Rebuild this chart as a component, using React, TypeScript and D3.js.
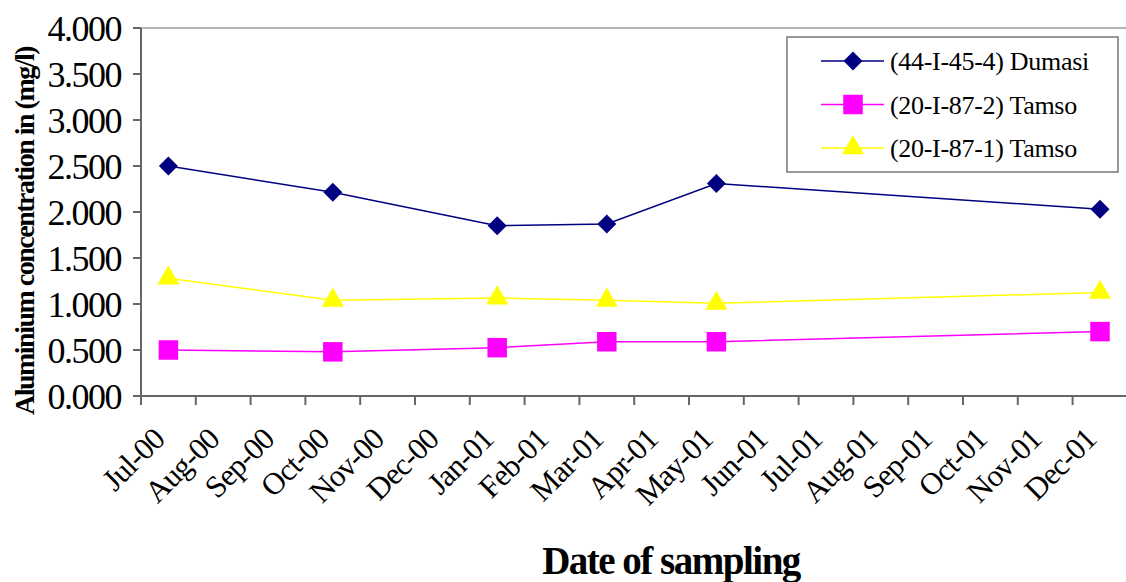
import React, { useEffect, useRef } from "react";
import * as d3 from "d3";

// month slots of the date axis
const months: string[] = [
  "Jul-00", "Aug-00", "Sep-00", "Oct-00", "Nov-00", "Dec-00",
  "Jan-01", "Feb-01", "Mar-01", "Apr-01", "May-01", "Jun-01",
  "Jul-01", "Aug-01", "Sep-01", "Oct-01", "Nov-01", "Dec-01",
];
const samplingDates: string[] = ["Jul-00", "Oct-00", "Jan-01", "Mar-01", "May-01", "Dec-01"];

const dumasi: number[] = [2.5, 2.214, 1.851, 1.87, 2.31, 2.03];
const tamso2: number[] = [0.5, 0.48, 0.525, 0.59, 0.59, 0.7];
const tamso1: number[] = [1.28, 1.04, 1.065, 1.04, 1.007, 1.125];

const yTicks: number[] = [0, 0.5, 1, 1.5, 2, 2.5, 3, 3.5, 4];

const seriesNames: string[] = ["(44-I-45-4) Dumasi", "(20-I-87-2) Tamso", "(20-I-87-1) Tamso"];

const W = 1126;
const H = 582;
const serif = "'Liberation Serif', 'Times New Roman', serif";

const App = () => {
  const svgRef = useRef<SVGSVGElement>(null);

  useEffect(() => {
    const svg = d3.select(svgRef.current);
    svg.selectAll("*").remove();

    const left = 141;
    const top = 28;
    const bottom = 396;
    const step = 54.8;

    const x = d3
      .scaleBand<string>()
      .domain(months)
      .range([left, left + months.length * step])
      .paddingInner(0)
      .paddingOuter(0);
    const y = d3.scaleLinear().domain([0, 4]).range([bottom, top]);
    const cx = (m: string) => (x(m) as number) + x.bandwidth() / 2;

    // top border of plot area
    svg
      .append("line")
      .attr("x1", left)
      .attr("x2", W)
      .attr("y1", top)
      .attr("y2", top)
      .attr("stroke", "#b4b4b4")
      .attr("stroke-width", 2);

    // y axis
    svg
      .append("line")
      .attr("x1", left)
      .attr("x2", left)
      .attr("y1", top)
      .attr("y2", bottom)
      .attr("stroke", "#666")
      .attr("stroke-width", 2);
    const yg = svg.append("g");
    yg.selectAll("line")
      .data(yTicks)
      .enter()
      .append("line")
      .attr("x1", left - 8)
      .attr("x2", left)
      .attr("y1", (d) => y(d))
      .attr("y2", (d) => y(d))
      .attr("stroke", "#666")
      .attr("stroke-width", 2);
    yg.selectAll("text")
      .data(yTicks)
      .enter()
      .append("text")
      .attr("x", 121)
      .attr("y", (d) => y(d))
      .attr("dy", "0.35em")
      .attr("text-anchor", "end")
      .style("font-family", serif)
      .style("font-size", "36px")
      .style("letter-spacing", "-1.5px")
      .text((d) => d3.format(".3f")(d));

    // x axis
    svg
      .append("line")
      .attr("x1", left)
      .attr("x2", W)
      .attr("y1", bottom)
      .attr("y2", bottom)
      .attr("stroke", "#666")
      .attr("stroke-width", 2);
    const xg = svg.append("g");
    xg.selectAll("line")
      .data(months)
      .enter()
      .append("line")
      .attr("x1", (d) => x(d) as number)
      .attr("x2", (d) => x(d) as number)
      .attr("y1", bottom)
      .attr("y2", bottom + 9)
      .attr("stroke", "#666")
      .attr("stroke-width", 2);
    xg.selectAll("text")
      .data(months)
      .enter()
      .append("text")
      .attr("transform", (d) => `translate(${cx(d) - 2},${bottom + 45}) rotate(-45)`)
      .attr("text-anchor", "end")
      .style("font-family", serif)
      .style("font-size", "31px")
      .style("letter-spacing", "-0.8px")
      .text((d) => d);

    // axis titles
    svg
      .append("text")
      .attr("transform", `translate(34,231) rotate(-90)`)
      .attr("text-anchor", "middle")
      .style("font-family", serif)
      .style("font-weight", "bold")
      .style("font-size", "28px")
      .style("letter-spacing", "-1.5px")
      .text("Aluminium concentration in (mg/l)");
    svg
      .append("text")
      .attr("x", 671)
      .attr("y", 574)
      .attr("text-anchor", "middle")
      .style("font-family", serif)
      .style("font-weight", "bold")
      .style("font-size", "39px")
      .style("letter-spacing", "-1.5px")
      .text("Date of sampling");

    // series
    const series = [
      { name: seriesNames[0], values: dumasi, color: "#000080", shape: d3.symbolSquare, size: 180, rot: 45 },
      { name: seriesNames[1], values: tamso2, color: "#FF00FF", shape: d3.symbolSquare, size: 380, rot: 0 },
      { name: seriesNames[2], values: tamso1, color: "#FFFF00", shape: d3.symbolTriangle, size: 210, rot: 0 },
    ];
    const line = d3
      .line<number>()
      .x((_, i) => cx(samplingDates[i]))
      .y((d) => y(d));

    series.forEach((s) => {
      svg
        .append("path")
        .attr("d", line(s.values))
        .attr("fill", "none")
        .attr("stroke", s.color)
        .attr("stroke-width", 1.5);
      svg
        .selectAll(null)
        .data(s.values)
        .enter()
        .append("path")
        .attr("d", d3.symbol().type(s.shape).size(s.size)())
        .attr("transform", (d, i) => `translate(${cx(samplingDates[i])},${y(d)}) rotate(${s.rot})`)
        .attr("fill", s.color);
    });

    // legend
    const lg = svg.append("g");
    lg.append("rect")
      .attr("x", 787)
      .attr("y", 37)
      .attr("width", 331)
      .attr("height", 135)
      .attr("fill", "white")
      .attr("stroke", "#777")
      .attr("stroke-width", 1.5);
    series.forEach((s, i) => {
      const ry = 61 + i * 43.5;
      lg.append("line")
        .attr("x1", 821)
        .attr("x2", 884)
        .attr("y1", ry)
        .attr("y2", ry)
        .attr("stroke", s.color)
        .attr("stroke-width", 1.5);
      lg.append("path")
        .attr("d", d3.symbol().type(s.shape).size(s.size)())
        .attr("transform", `translate(853,${ry}) rotate(${s.rot})`)
        .attr("fill", s.color);
      lg.append("text")
        .attr("x", 890)
        .attr("y", ry)
        .attr("dy", "0.35em")
        .style("font-family", serif)
        .style("font-size", "26px")
        .style("letter-spacing", "-0.3px")
        .text(s.name);
    });
  }, []);

  return (
    <svg
      ref={svgRef}
      width={W}
      height={H}
      style={{ position: "absolute", left: 0, top: 0, background: "white" }}
    />
  );
};

export default App;
